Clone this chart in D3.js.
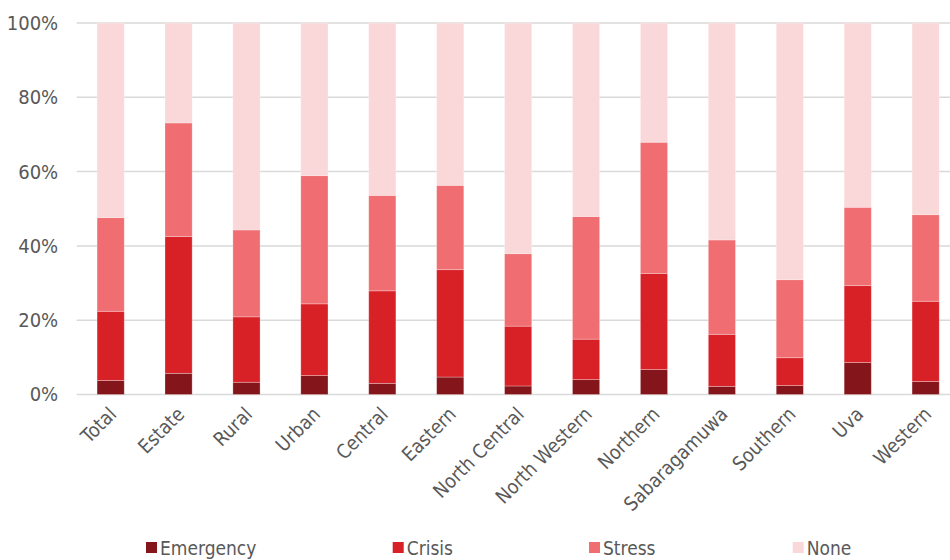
<!DOCTYPE html>
<html><head><meta charset="utf-8">
<script src="https://cdn.jsdelivr.net/npm/d3@7"></script>
<style>body{margin:0;background:#fff;} svg{display:block;}</style>
</head><body>
<svg id="chart" width="950" height="560"></svg>
<script>
const categories = ["Total","Estate","Rural","Urban","Central","Eastern","North Central","North Western","Northern","Sabaragamuwa","Southern","Uva","Western"];
const seriesNames = ["Emergency","Crisis","Stress","None"];
const emergency = [3.8, 5.7, 3.3, 5.1, 3.0, 4.7, 2.3, 4.0, 6.7, 2.2, 2.4, 8.6, 3.5];
const crisis    = [18.6, 36.8, 17.6, 19.3, 24.9, 28.9, 16.1, 10.9, 25.9, 14.0, 7.5, 20.7, 21.6];
const stress    = [25.2, 30.6, 23.4, 34.5, 25.7, 22.7, 19.5, 33.0, 35.3, 25.4, 21.0, 21.1, 23.3];
const none      = [52.4, 26.9, 55.7, 41.1, 46.4, 43.7, 62.1, 52.1, 32.1, 58.4, 69.1, 49.6, 51.6];
const yTicks = [0, 20, 40, 60, 80, 100];
const colors = ["#84151a", "#d82027", "#f06d71", "#fad7d8"];

const svg = d3.select("#chart");
const font = "'DejaVu Sans Condensed','DejaVu Sans',sans-serif";
const plotLeft = 76.7, plotRight = 959.6, plotTop = 23, plotBottom = 394.5;

const x = d3.scaleBand().domain(categories).range([plotLeft, plotRight]).paddingInner(0.6).paddingOuter(0.3);
const y = d3.scaleLinear().domain([0, 100]).range([plotBottom, plotTop]);

// gridlines
svg.append("g").selectAll("line").data(yTicks).join("line")
  .attr("x1", plotLeft).attr("x2", 950)
  .attr("y1", d => y(d)).attr("y2", d => y(d))
  .attr("stroke", "#d9d9d9").attr("stroke-width", 1.5);

// y axis labels
const yAxis = d3.axisLeft(y).tickValues(yTicks).tickFormat(d => d + "%").tickSize(0).tickPadding(0);
const yg = svg.append("g").attr("transform", `translate(${plotLeft - 18.5},0)`).call(yAxis);
yg.select(".domain").remove();
yg.selectAll("text").attr("font-family", font).attr("font-size", 20).attr("fill", "#595959");

// stacked data
const rows = categories.map((c, i) => ({cat: c, Emergency: emergency[i], Crisis: crisis[i], Stress: stress[i], None: none[i]}));
const stacked = d3.stack().keys(seriesNames)(rows);

svg.append("g").selectAll("g").data(stacked).join("g")
  .attr("fill", (d, i) => colors[i])
  .selectAll("rect").data(d => d).join("rect")
  .attr("x", d => x(d.data.cat))
  .attr("width", x.bandwidth())
  .attr("y", d => y(d[1]))
  .attr("height", d => y(d[0]) - y(d[1]))
  .attr("stroke", "rgba(255,255,255,0.35)").attr("stroke-width", 0.8);

// x axis labels
const xg = svg.append("g").attr("transform", `translate(0,${plotBottom})`)
  .call(d3.axisBottom(x).tickSize(0).tickPadding(0));
xg.select(".domain").remove();
xg.selectAll("text")
  .attr("font-family", font).attr("font-size", 19.5).attr("fill", "#595959")
  .attr("text-anchor", "end")
  .attr("dy", 0)
  .attr("transform", "translate(7,21) rotate(-45)");

// legend
const legendX = [146, 392.7, 589, 792.7];
const lg = svg.append("g").selectAll("g").data(seriesNames).join("g")
  .attr("transform", (d, i) => `translate(${legendX[i]},542)`);
lg.append("rect").attr("width", 11).attr("height", 11).attr("fill", (d, i) => colors[i]);
lg.append("text").attr("x", 14).attr("y", 12.5).text(d => d)
  .attr("font-family", font).attr("font-size", 19).attr("fill", "#595959");
</script>
</body></html>
